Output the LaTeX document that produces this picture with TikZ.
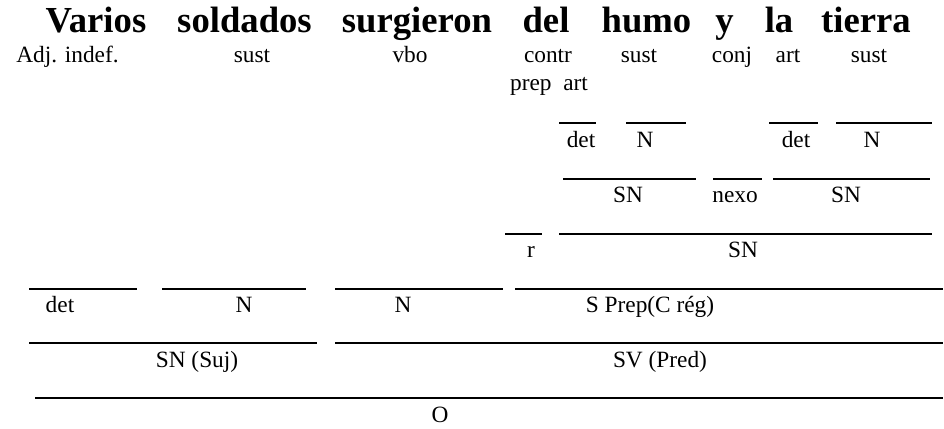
\documentclass[tikz,border=0pt]{standalone}
\usepackage{fontspec}
\setmainfont{Liberation Serif}
\begin{document}
\begin{tikzpicture}[x=0.75pt,y=-0.75pt,
  ttl/.style={anchor=base,inner sep=0pt,font=\fontsize{27.5}{30}\selectfont\bfseries},
  lbl/.style={anchor=base,inner sep=0pt,font=\fontsize{17.5}{20}\selectfont},
  bar/.style={line width=0.8pt,black}]
\useasboundingbox (0,0) rectangle (944,428);
% title
\node[ttl] (w1) at (96,33) {Varios};
\node[ttl] (w2) at (244.5,33) {soldados};
\node[ttl] (w3) at (417,33) {surgieron};
\node[ttl] (w4) at (546,33) {del};
\node[ttl] (w5) at (646.5,33) {humo};
\node[ttl] (w6) at (724.5,33) {y};
\node[ttl] (w7) at (779,33) {la};
\node[ttl] (w8) at (866,33) {tierra};
% word classes
\node[lbl] (c1) at (67.5,62) {Adj. indef.};
\node[lbl] (c2) at (252,62) {sust};
\node[lbl] (c3) at (410,62) {vbo};
\node[lbl] (c4) at (548,62) {contr};
\node[lbl] (c4b) at (549,90) {prep\ \ art};
\node[lbl] (c5) at (639,62) {sust};
\node[lbl] (c6) at (732,62) {conj};
\node[lbl] (c7) at (788,62) {art};
\node[lbl] (c8) at (869,62) {sust};
% row 1
\draw[bar] (559,123) -- (596,123);
\draw[bar] (626,123) -- (686,123);
\draw[bar] (769,123) -- (818,123);
\draw[bar] (836,123) -- (932,123);
\node[lbl] (f1) at (581,147) {det};
\node[lbl] (f2) at (645,147) {N};
\node[lbl] (f3) at (796,147) {det};
\node[lbl] (f4) at (872,147) {N};
% row 2
\draw[bar] (563,179) -- (696,179);
\draw[bar] (713,179) -- (762,179);
\draw[bar] (773,179) -- (930,179);
\node[lbl] (g1) at (628,202) {SN};
\node[lbl] (g2) at (735,202) {nexo};
\node[lbl] (g3) at (846,202) {SN};
% row 3
\draw[bar] (505,234) -- (542,234);
\draw[bar] (559,234) -- (932,234);
\node[lbl] (h1) at (531,257) {r};
\node[lbl] (h2) at (743,257) {SN};
% row 4
\draw[bar] (29,289) -- (137,289);
\draw[bar] (162,289) -- (306,289);
\draw[bar] (335,289) -- (503,289);
\draw[bar] (515,289) -- (943,289);
\node[lbl] (i1) at (60,312) {det};
\node[lbl] (i2) at (244,312) {N};
\node[lbl] (i3) at (403,312) {N};
\node[lbl] (i4) at (650,312) {S Prep(C rég)};
% row 5
\draw[bar] (29,343) -- (317,343);
\draw[bar] (335,343) -- (943,343);
\node[lbl] (j1) at (197,367) {SN (Suj)};
\node[lbl] (j2) at (660,367) {SV (Pred)};
% row 6
\draw[bar] (35,398) -- (943,398);
\node[lbl] (k1) at (440,422) {O};
\end{tikzpicture}
\end{document}
